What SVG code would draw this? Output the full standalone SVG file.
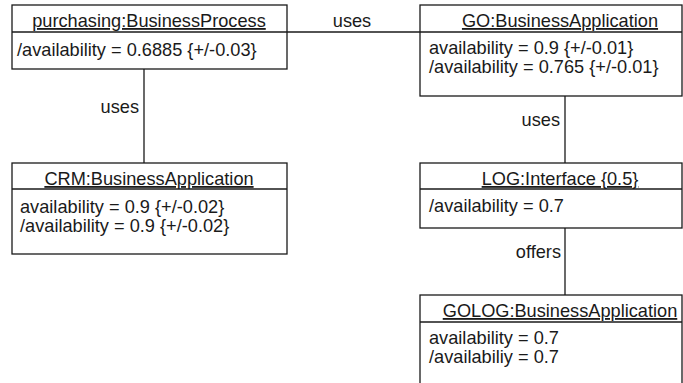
<svg xmlns="http://www.w3.org/2000/svg" width="683" height="383" viewBox="0 0 683 383">
<style>
.box{fill:#fff;stroke:#1a1a1a;stroke-width:1.3}
.ln{stroke:#1a1a1a;stroke-width:1.3;fill:none}
text{font-family:"Liberation Sans",Arial,sans-serif;font-size:18.2px;fill:#1a1a1a}
.t{text-anchor:middle;text-decoration:underline}
.lbl{text-anchor:end}
</style>
<rect width="683" height="383" fill="#fff"/>
<g id="connectors">
<line class="ln" x1="287" y1="32" x2="420" y2="32"/>
<text x="352" y="27" text-anchor="middle">uses</text>
<line class="ln" x1="144" y1="69" x2="144" y2="163"/>
<text class="lbl" x="139" y="113">uses</text>
<line class="ln" x1="565" y1="96" x2="565" y2="163"/>
<text class="lbl" x="560" y="126">uses</text>
<line class="ln" x1="565" y1="228" x2="565" y2="295"/>
<text class="lbl" x="561" y="258">offers</text>
</g>
<g id="purchasing">
<rect class="box" x="12" y="5" width="275" height="64"/>
<line class="ln" x1="12" y1="32" x2="287" y2="32"/>
<text class="t" x="149" y="27">purchasing:BusinessProcess</text>
<text x="17" y="56">/availability = 0.6885 {+/-0.03}</text>
</g>
<g id="crm">
<rect class="box" x="12" y="163" width="275" height="91"/>
<line class="ln" x1="12" y1="189" x2="287" y2="189"/>
<text class="t" x="149" y="185">CRM:BusinessApplication</text>
<text x="20" y="213">availability = 0.9 {+/-0.02}</text>
<text x="20" y="232">/availability = 0.9 {+/-0.02}</text>
</g>
<g id="go">
<rect class="box" x="420" y="5" width="262" height="91"/>
<line class="ln" x1="420" y1="32" x2="682" y2="32"/>
<text class="t" x="560" y="27">GO:BusinessApplication</text>
<text x="429" y="54">availability = 0.9 {+/-0.01}</text>
<text x="429" y="73">/availability = 0.765 {+/-0.01}</text>
</g>
<g id="log">
<rect class="box" x="420" y="163" width="262" height="65"/>
<line class="ln" x1="420" y1="189" x2="682" y2="189"/>
<text class="t" x="560" y="185">LOG:Interface {0.5}</text>
<text x="429" y="212">/availability = 0.7</text>
</g>
<g id="golog">
<rect class="box" x="420" y="295" width="262" height="100"/>
<line class="ln" x1="420" y1="322" x2="682" y2="322"/>
<text class="t" x="560" y="317">GOLOG:BusinessApplication</text>
<text x="429" y="344">availability = 0.7</text>
<text x="429" y="363">/availabiliy = 0.7</text>
</g>
</svg>
